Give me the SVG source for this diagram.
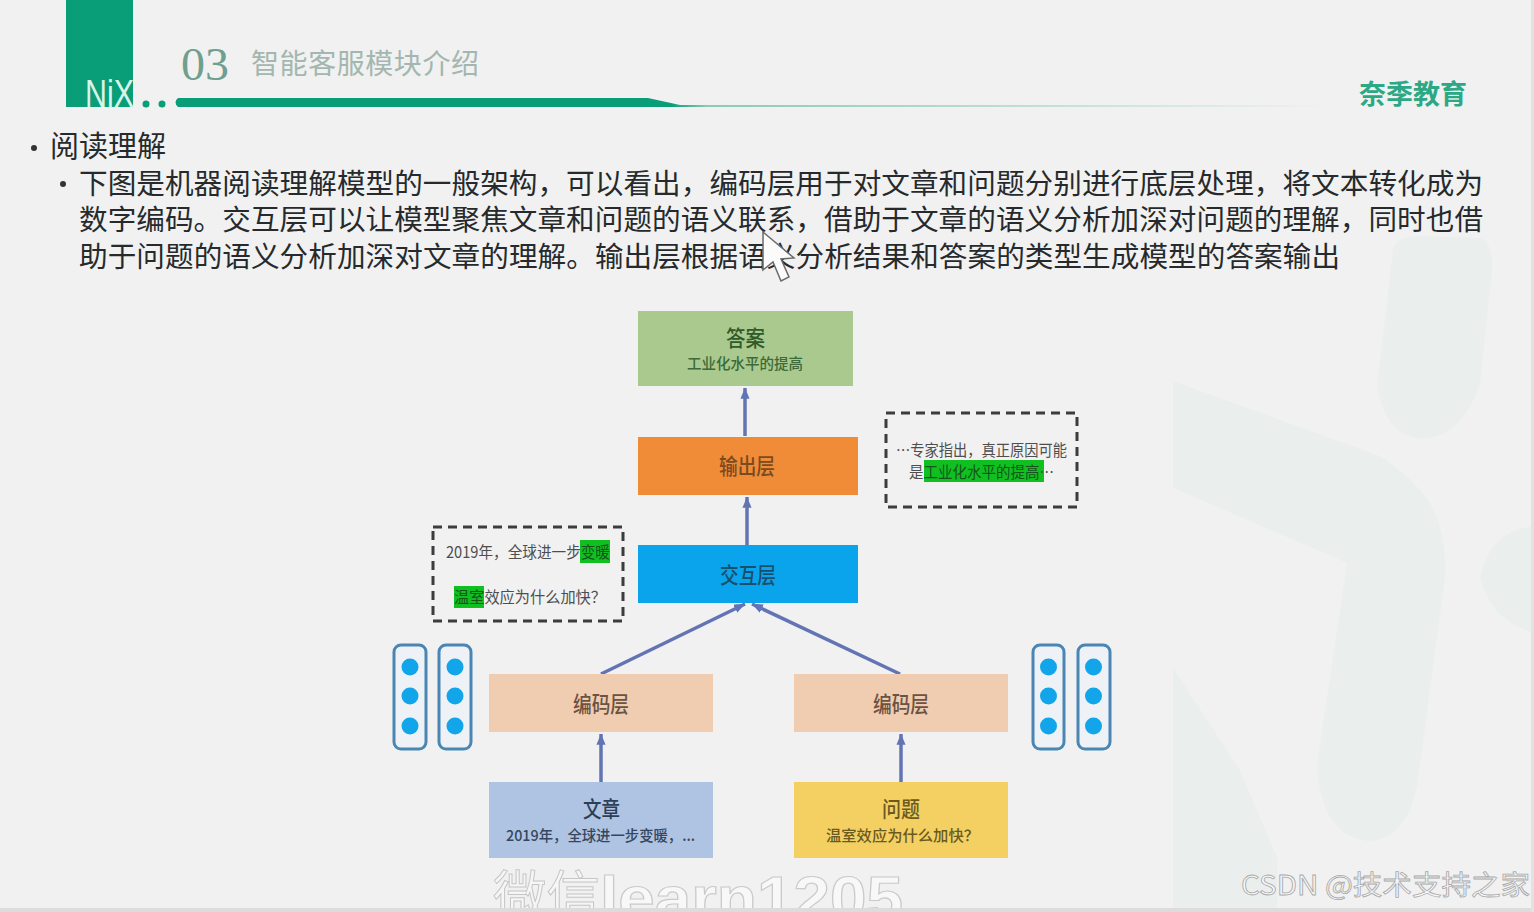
<svg xmlns="http://www.w3.org/2000/svg" width="1534" height="912" viewBox="0 0 1534 912">
<style>
text{font-family:"Noto Sans CJK SC","Liberation Sans",sans-serif;}
.body{font-size:28.6px;fill:#262a2c;}
.t{font-size:22px;font-weight:500;}
.s{font-size:15px;font-weight:500;}
.conn{stroke:#6274b4;stroke-width:3.5;fill:none;marker-end:url(#arr);}
.dash{fill:none;stroke:#3c3c3c;stroke-width:3;stroke-dasharray:9 6;}
.cap{fill:#eef2f6;stroke:#4a86b4;stroke-width:3;}
.dot{fill:#12a5ea;}
.hl{fill:#10c020;}
.q{font-size:15.5px;fill:#4e4e4e;}
</style>
<defs>
<marker id="arr" markerWidth="4" markerHeight="4" refX="3.1" refY="1.3" orient="auto" markerUnits="strokeWidth"><path d="M0 0L3.2 1.3L0 2.6z" fill="#6274b4"/></marker>
<linearGradient id="rule" x1="0" x2="1" y1="0" y2="0"><stop offset="0" stop-color="#0a9e78"/><stop offset="0.43" stop-color="#0a9e78"/><stop offset="0.46" stop-color="#8ccab4"/><stop offset="1" stop-color="#f1f1f1"/></linearGradient>
</defs>
<rect width="1534" height="912" fill="#f1f1f1"/>
<g id="backdrop" fill="#eaefed">
<path d="M1393 250Q1396 236 1420 236L1480 238Q1494 244 1492 270L1480 385Q1460 439 1420 439Q1385 435 1377 385z"/>
<path d="M1173 381L1380 456Q1425 485 1438 520Q1447 550 1445 577L1417 787Q1405 841 1367 841Q1320 835 1317 764L1347 563L1173 488z"/>
<path d="M1534 526Q1490 530 1480 577Q1490 620 1534 633z"/>
<path d="M1173 668L1240 770L1277 857V908H1173z"/>
</g>
<g id="header">
<rect x="66" y="0" width="67" height="107" fill="#0a9e78"/>
<text x="85" y="107" font-size="38" fill="#d8f4ea" style="font-family:'Liberation Sans',sans-serif" textLength="49" lengthAdjust="spacingAndGlyphs">NiX</text>
<circle cx="146" cy="104" r="3.5" fill="#0a9e78"/><circle cx="162" cy="104" r="3.5" fill="#0a9e78"/>
<path d="M178 98H648L680 105H1330V107H178Q173 102 178 98z" fill="url(#rule)"/>
<text x="181" y="80" font-size="46" fill="#6f9f8e" style="font-family:'Liberation Serif',serif" textLength="48" lengthAdjust="spacingAndGlyphs">03</text>
<text x="251" y="74" font-size="28" fill="#a3b7b0" textLength="228">智能客服模块介绍</text>
<text x="1359" y="104" font-size="27" font-weight="700" fill="#2ca884" textLength="108">奈季教育</text>
</g>
<g id="bullets">
<circle cx="34" cy="148" r="3" fill="#333"/>
<text x="50" y="157" font-size="29" fill="#262a2c" textLength="116">阅读理解</text>
<circle cx="63" cy="184" r="3" fill="#333"/>
<text class="body" x="79" y="194" textLength="1404">下图是机器阅读理解模型的一般架构&#xFF0C;可以看出&#xFF0C;编码层用于对文章和问题分别进行底层处理&#xFF0C;将文本转化成为</text>
<text class="body" x="79" y="230" textLength="1404">数字编码。交互层可以让模型聚焦文章和问题的语义联系&#xFF0C;借助于文章的语义分析加深对问题的理解&#xFF0C;同时也借</text>
<text class="body" x="79" y="267" textLength="1261">助于问题的语义分析加深对文章的理解。输出层根据语义分析结果和答案的类型生成模型的答案输出</text>
</g>
<g id="cursor">
<path d="M763 232L763 270L773 262L781 281L789 277L781 259L794 258z" fill="#fbfbfb" stroke="#6a6a6a" stroke-width="1.5"/>
</g>
<g id="connectors">
<line class="conn" x1="745" y1="436" x2="745" y2="388"/>
<line class="conn" x1="747" y1="545" x2="747" y2="497"/>
<line class="conn" x1="601" y1="674" x2="745" y2="604"/>
<line class="conn" x1="900" y1="674" x2="752" y2="604"/>
<line class="conn" x1="601" y1="782" x2="601" y2="734"/>
<line class="conn" x1="901" y1="782" x2="901" y2="734"/>
</g>
<g id="answer">
<rect x="638" y="311" width="215" height="75" fill="#a9c98f"/>
<text class="t" x="726" y="346" fill="#2f5a2a" textLength="39" lengthAdjust="spacingAndGlyphs">答案</text>
<text class="s" x="687" y="369" fill="#3d6a38" textLength="116" lengthAdjust="spacingAndGlyphs">工业化水平的提高</text>
</g>
<g id="output">
<rect x="638" y="437" width="220" height="58" fill="#f08c38"/>
<text class="t" x="719" y="474" fill="#7a4a20" textLength="56" lengthAdjust="spacingAndGlyphs">输出层</text>
</g>
<g id="interact">
<rect x="638" y="545" width="220" height="58" fill="#0aa4ec"/>
<text class="t" x="720" y="583" fill="#17506f" textLength="56" lengthAdjust="spacingAndGlyphs">交互层</text>
</g>
<g id="encoder-left">
<rect x="489" y="674" width="224" height="58" fill="#f0ccb0"/>
<text class="t" x="573" y="712" fill="#6b5242" textLength="56" lengthAdjust="spacingAndGlyphs">编码层</text>
</g>
<g id="encoder-right">
<rect x="794" y="674" width="214" height="58" fill="#f0ccb0"/>
<text class="t" x="873" y="712" fill="#6b5242" textLength="56" lengthAdjust="spacingAndGlyphs">编码层</text>
</g>
<g id="article">
<rect x="489" y="782" width="224" height="76" fill="#afc3e2"/>
<text class="t" x="583" y="817" fill="#2c3f57" textLength="37" lengthAdjust="spacingAndGlyphs">文章</text>
<text class="s" x="506" y="841" fill="#34475f" textLength="189" lengthAdjust="spacingAndGlyphs">2019年&#xFF0C;全球进一步变暖&#xFF0C;...</text>
</g>
<g id="question">
<rect x="794" y="782" width="214" height="76" fill="#f4d063"/>
<text class="t" x="882" y="817" fill="#6a5a20" textLength="38" lengthAdjust="spacingAndGlyphs">问题</text>
<text class="s" x="826" y="841" fill="#6a5a20" textLength="153" lengthAdjust="spacingAndGlyphs">温室效应为什么加快&#xFF1F;</text>
</g>
<g id="answer-passage">
<rect class="dash" x="886" y="413" width="191" height="94"/>
<rect class="hl" x="924" y="460" width="120" height="22"/>
<text class="q" x="896" y="456" textLength="171" lengthAdjust="spacingAndGlyphs">…专家指出&#xFF0C;真正原因可能</text>
<text class="q" x="909" y="478" textLength="145" lengthAdjust="spacingAndGlyphs">是<tspan fill="#15551c">工业化水平的提高</tspan>…</text>
</g>
<g id="question-passage">
<rect class="dash" x="433" y="527" width="190" height="94"/>
<rect class="hl" x="580" y="540" width="30" height="23"/>
<rect class="hl" x="454" y="586" width="30" height="22"/>
<text class="q" x="446" y="558" textLength="164" lengthAdjust="spacingAndGlyphs">2019年&#xFF0C;全球进一步<tspan fill="#15551c">变暖</tspan></text>
<text class="q" x="454" y="603" textLength="152" lengthAdjust="spacingAndGlyphs"><tspan fill="#15551c">温室</tspan>效应为什么加快&#xFF1F;</text>
</g>
<g id="vectors-left">
<rect class="cap" x="394" y="645" width="32" height="104" rx="7"/>
<rect class="cap" x="439" y="645" width="32" height="104" rx="7"/>
<circle class="dot" cx="410" cy="667" r="8.5"/><circle class="dot" cx="410" cy="696" r="8.5"/><circle class="dot" cx="410" cy="726" r="8.5"/>
<circle class="dot" cx="455" cy="667" r="8.5"/><circle class="dot" cx="455" cy="696" r="8.5"/><circle class="dot" cx="455" cy="726" r="8.5"/>
</g>
<g id="vectors-right">
<rect class="cap" x="1033" y="645" width="31" height="104" rx="7"/>
<rect class="cap" x="1078" y="645" width="32" height="104" rx="7"/>
<circle class="dot" cx="1048.500" cy="667" r="8.500"/><circle class="dot" cx="1048.500" cy="696" r="8.500"/><circle class="dot" cx="1048.500" cy="726" r="8.500"/>
<circle class="dot" cx="1093.500" cy="667" r="8.500"/><circle class="dot" cx="1093.500" cy="696" r="8.500"/><circle class="dot" cx="1093.500" cy="726" r="8.500"/>
</g>
<g id="watermarks">
<text x="493" y="915" font-size="53" fill="#f6f6f6" stroke="#c6c6c6" stroke-width="1" textLength="107" lengthAdjust="spacingAndGlyphs">微信</text>
<text x="600" y="919" font-size="62" font-weight="700" fill="#f8f8f8" stroke="#cacaca" stroke-width="1.2" style="font-family:'Liberation Sans',sans-serif" textLength="303" lengthAdjust="spacingAndGlyphs">learn1205</text>
<text x="1241" y="895" font-size="27" fill="#f8f8f8" stroke="#a8a8a8" stroke-width="0.8" textLength="289" lengthAdjust="spacingAndGlyphs">CSDN @技术支持之家</text>
</g>
<rect y="908" width="1534" height="4" fill="#dcdcdc"/>
<rect x="1531" width="3" height="912" fill="#e2e2e2"/>
</svg>
